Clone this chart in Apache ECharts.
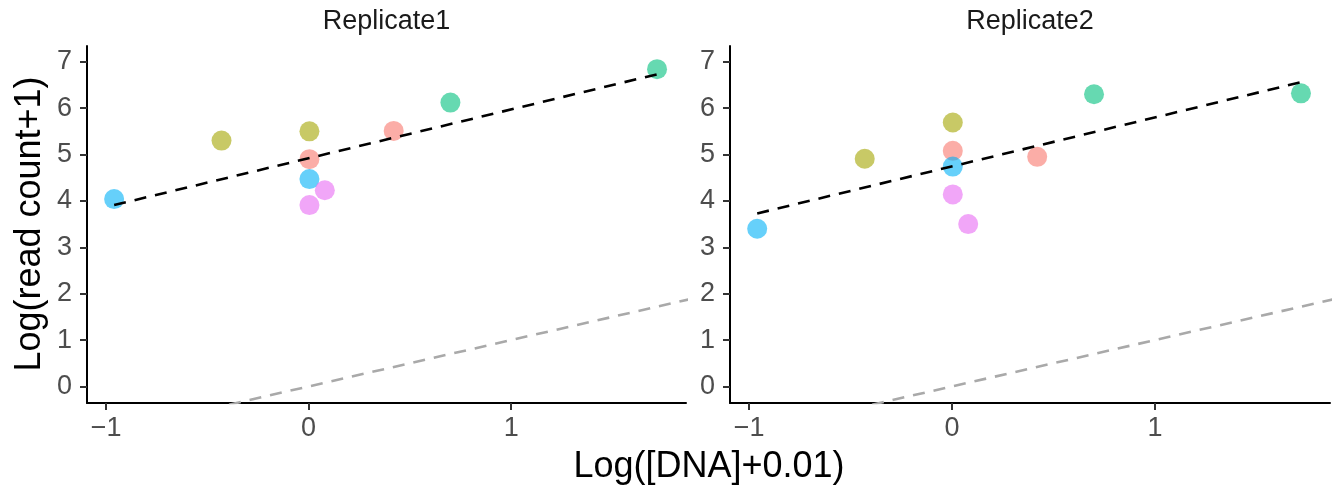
<!DOCTYPE html>
<html>
<head>
<meta charset="utf-8">
<script src="https://cdn.jsdelivr.net/npm/echarts@6/dist/echarts.min.js"></script>
<style>
  html, body { margin: 0; padding: 0; background: #fff; }
  #chart { width: 1333px; height: 489px; }
</style>
</head>
<body>
<div id="chart"></div>
<script>
// groups share x = Log([DNA]+0.01); two points per group
const groupColors = ['#F8766D', '#A3A500', '#00BF7D', '#00B0F6', '#E76BF3'];

// Replicate1 points [x, y]
const rep1Red    = [[0.004, 4.90], [0.42, 5.51]];
const rep1Olive  = [[-0.43, 5.30], [0.004, 5.50]];
const rep1Green  = [[0.70, 6.12], [1.72, 6.84]];
const rep1Blue   = [[-0.96, 4.04], [0.004, 4.47]];
const rep1Violet = [[0.004, 3.91], [0.08, 4.23]];

// Replicate2 points [x, y]
const rep2Red    = [[0.004, 5.08], [0.42, 4.95]];
const rep2Olive  = [[-0.43, 4.91], [0.004, 5.69]];
const rep2Green  = [[0.70, 6.30], [1.72, 6.32]];
const rep2Blue   = [[-0.96, 3.40], [0.004, 4.74]];
const rep2Violet = [[0.004, 4.14], [0.08, 3.50]];

// fitted lines
const rep1Fit = [[-0.96, 3.91], [1.72, 6.73]];
const rep2Fit = [[-0.96, 3.73], [1.72, 6.56]];
// identity line y = x
const identity = [[-1.1, -1.1], [1.9, 1.9]];

const xTicks = [-1, 0, 1];
const yTicks = [0, 1, 2, 3, 4, 5, 6, 7];

const font = "'Liberation Sans', Arial, sans-serif";

let myChart = echarts.init(document.getElementById('chart'));

function makeX(gridIndex) {
  return {
    type: 'value', gridIndex: gridIndex,
    min: -1.094, max: 1.863,
    splitLine: { show: false },
    axisLine: { onZero: false, lineStyle: { color: '#000', width: 2 } },
    axisTick: { customValues: xTicks, length: 7, lineStyle: { color: '#333', width: 2 } },
    axisLabel: {
      customValues: xTicks, margin: 12,
      color: '#4D4D4D', fontSize: 27, fontFamily: font,
      formatter: v => String(v).replace('-', '\u2212')
    }
  };
}
function makeY(gridIndex) {
  return {
    type: 'value', gridIndex: gridIndex,
    min: -0.357, max: 7.34,
    splitLine: { show: false },
    axisLine: { show: true, onZero: false, lineStyle: { color: '#000', width: 2 } },
    axisTick: { show: true, customValues: yTicks, length: 7, lineStyle: { color: '#333', width: 2 } },
    axisLabel: {
      customValues: yTicks, margin: 15,
      color: '#4D4D4D', fontSize: 27, fontFamily: font
    }
  };
}

function pointSeries(idx, groups) {
  return groups.map((g, i) => ({
    type: 'scatter',
    xAxisIndex: idx, yAxisIndex: idx,
    data: g,
    symbol: 'circle',
    symbolSize: 20,
    itemStyle: { color: groupColors[i], opacity: 0.6 },
    z: 2
  }));
}
function lineSeries(idx, data, color) {
  return {
    type: 'line',
    xAxisIndex: idx, yAxisIndex: idx,
    data: data,
    symbol: 'none',
    clip: true,
    lineStyle: { color: color, width: 2.6, type: [12, 9] },
    z: 3
  };
}

let series = [].concat(
  pointSeries(0, [rep1Red, rep1Olive, rep1Green, rep1Blue, rep1Violet]),
  pointSeries(1, [rep2Red, rep2Olive, rep2Green, rep2Blue, rep2Violet]),
  [
    lineSeries(0, identity, '#A9A9A9'),
    lineSeries(1, identity, '#A9A9A9'),
    lineSeries(0, rep1Fit, '#000'),
    lineSeries(1, rep2Fit, '#000')
  ]
);

myChart.setOption({
  animation: false,
  grid: [
    { left: 87, top: 46, width: 599, height: 357 },
    { left: 730, top: 46, width: 600, height: 357 }
  ],
  xAxis: [makeX(0), makeX(1)],
  yAxis: [makeY(0), makeY(1)],
  series: series,
  graphic: [
    { type: 'text', x: 386.5, y: 22, style: { text: 'Replicate1', font: '27px ' + font, fill: '#1A1A1A', textAlign: 'center', textVerticalAlign: 'middle' } },
    { type: 'text', x: 1030, y: 22, style: { text: 'Replicate2', font: '27px ' + font, fill: '#1A1A1A', textAlign: 'center', textVerticalAlign: 'middle' } },
    { type: 'text', x: 709, y: 467, style: { text: 'Log([DNA]+0.01)', font: '36px ' + font, fill: '#000', textAlign: 'center', textVerticalAlign: 'middle' } },
    { type: 'text', x: 30, y: 224, rotation: Math.PI / 2, style: { text: 'Log(read count+1)', font: '36px ' + font, fill: '#000', textAlign: 'center', textVerticalAlign: 'middle' } }
  ]
});
</script>
</body>
</html>
